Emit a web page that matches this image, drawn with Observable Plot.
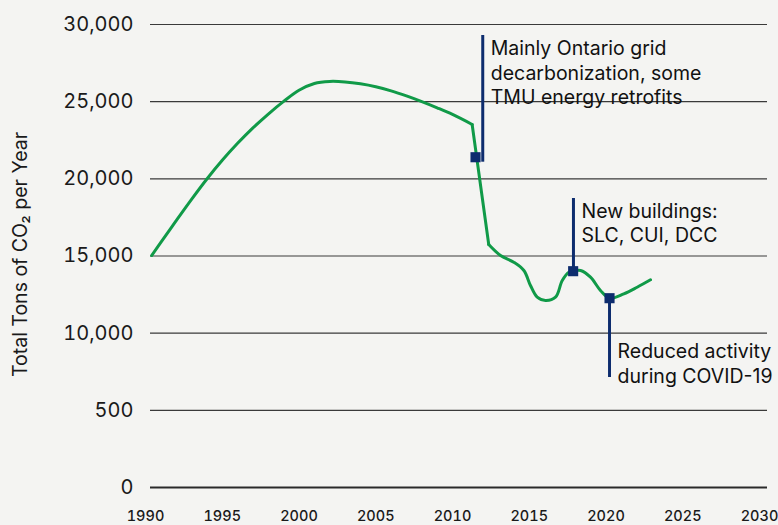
<!DOCTYPE html>
<html>
<head>
<meta charset="utf-8">
<script src="https://cdn.jsdelivr.net/npm/d3@7"></script>
<script src="https://cdn.jsdelivr.net/npm/@observablehq/plot@0.6"></script>
<style>
  html, body { margin: 0; padding: 0; background: #f4f4f2; }
  #chart { width: 778px; height: 525px; }
</style>
</head>
<body>
<div id="chart"></div>
<script>
// Emissions series (year, total tons of CO2 per year)
const years = [1990.4, 1991, 1992, 1993, 1994, 1995, 1996, 1997, 1998, 1999, 2000, 2001, 2002, 2003, 2004, 2005, 2006, 2007, 2008, 2009, 2010, 2011.28,
  2012.36, 2013.13, 2013.99, 2014.65, 2015.08, 2015.52, 2016.06, 2016.71, 2017.15, 2017.58, 2017.86, 2018.34, 2018.99, 2019.64, 2020.23, 2021.16, 2022.03, 2022.9];
const values = [15030, 15880, 17290, 18670, 19990, 21200, 22300, 23300, 24200, 25020, 25740, 26180, 26310, 26280, 26160, 25970, 25700, 25370, 25000, 24600, 24170, 23520,
  15745, 15032, 14598, 14060, 13089, 12330, 12117, 12330, 13413, 13950, 14016, 14060, 13627, 12765, 12266, 12550, 12978, 13458];
// Years where the series has sharp corners (the grid-decarbonization drop)
const breakYears = [2011.28, 2012.36];

// Axis ticks and labels
const xTicks = [1990, 1995, 2000, 2005, 2010, 2015, 2020, 2025, 2030];
const yTicks = [0, 5000, 10000, 15000, 20000, 25000, 30000];
const yTickLabels = ["0", "500", "10,000", "15,000", "20,000", "25,000", "30,000"];
const yTitle = "Total Tons of CO₂ per Year";

// Annotations
const noteYears = [2011.5, 2017.86, 2020.23];
const noteValues = [21400, 14016, 12266];
const noteLineYears = [2011.97, 2017.88, 2020.23];
const noteLineFrom = [21078, 14016, 12266];
const noteLineTo = [29287, 18726, 7127];
const noteTextValues = [29287, 18726, 9650];
const noteLabels = [
  "Mainly Ontario grid\ndecarbonization, some\nTMU energy retrofits",
  "New buildings:\nSLC, CUI, DCC",
  "Reduced activity\nduring COVID-19"
];

const series = years.map((y, i) => ({year: y, value: values[i]}));
const segBefore = series.filter(d => d.year <= breakYears[0]);
const segDrop = series.filter(d => d.year >= breakYears[0] && d.year <= breakYears[1]);
const segAfter = series.filter(d => d.year >= breakYears[1]);
const notes = noteYears.map((y, i) => ({
  year: y, value: noteValues[i], lineYear: noteLineYears[i],
  from: noteLineFrom[i], to: noteLineTo[i], textValue: noteTextValues[i], label: noteLabels[i]
}));

const navy = "#0d2c6e";
const green = "#109a48";
const lineOpts = { x: "year", y: "value", stroke: green, strokeWidth: 3, strokeLinejoin: "round", strokeLinecap: "round" };

const chart = Plot.plot({
  width: 778,
  height: 525,
  marginLeft: 150,
  marginRight: 11,
  marginTop: 24,
  marginBottom: 38,
  style: { fontFamily: "Inter, 'Liberation Sans', sans-serif", background: "#f4f4f2", color: "#1a1a1a" },
  x: { domain: [1990, 2030], range: [145, 759] },
  y: { domain: [0, 30000] },
  marks: [
    Plot.ruleY(yTicks.filter(d => d !== 0), { stroke: "#3a3a3a", strokeWidth: 1.2 }),
    Plot.ruleY([0], { stroke: "#2a2a2a", strokeWidth: 2 }),
    Plot.axisY({
      ticks: yTicks, tickSize: 0, tickPadding: 17, fontSize: 20,
      tickFormat: d => yTickLabels[yTicks.indexOf(d)], label: null
    }),
    Plot.axisX({
      ticks: xTicks, tickSize: 0, tickPadding: 23, fontSize: 14.5, fontWeight: 500,
      tickFormat: d => String(d), label: null
    }),
    Plot.text([yTitle], {
      frameAnchor: "left", textAnchor: "middle", lineAnchor: "middle", rotate: -90,
      dx: -130, dy: -1.5, fontSize: 19.5, fill: "#1a1a1a"
    }),
    Plot.line(segBefore, { ...lineOpts, curve: "catmull-rom" }),
    Plot.line(segDrop, { ...lineOpts, curve: "linear" }),
    Plot.line(segAfter, { ...lineOpts, curve: "catmull-rom" }),
    Plot.ruleX(notes, { x: "lineYear", y1: "from", y2: "to", stroke: navy, strokeWidth: 3 }),
    Plot.dot(notes, { x: "year", y: "value", symbol: "square", r: 5.7, fill: navy, stroke: "none" }),
    Plot.text(notes, {
      x: "lineYear", y: "textValue", text: "label", textAnchor: "start", lineAnchor: "top",
      lineHeight: 1.26, fontSize: 19.5, dx: 8, dy: 2, fill: "#111"
    })
  ]
});

document.getElementById("chart").appendChild(chart);
</script>
</body>
</html>
